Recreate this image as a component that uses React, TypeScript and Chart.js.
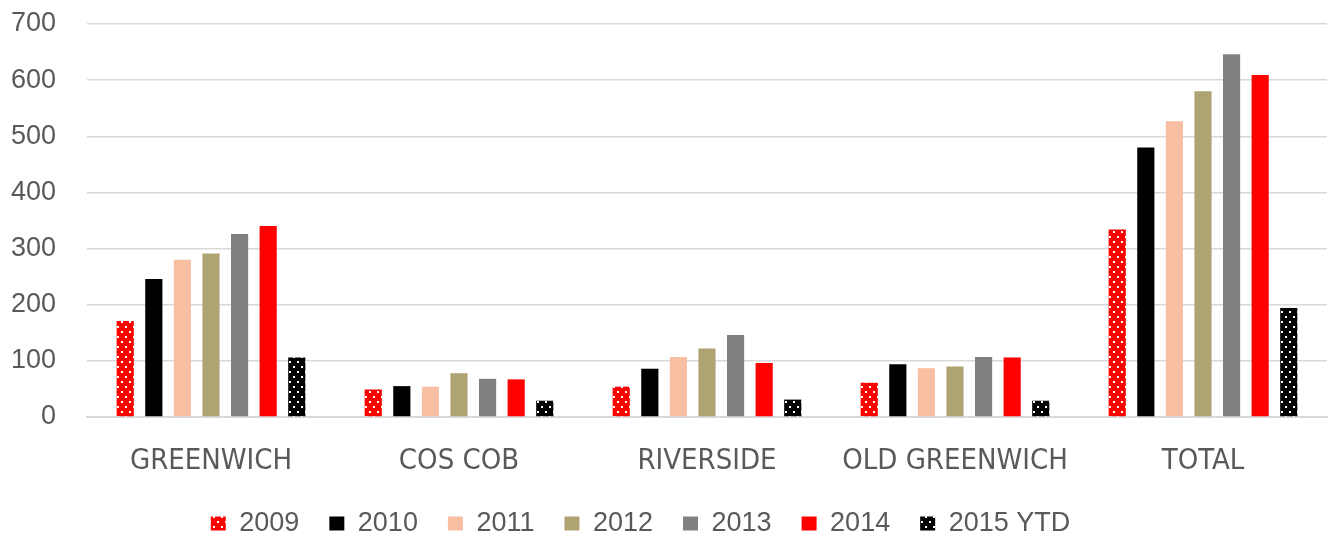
import React, { useEffect, useRef } from "react";
import { Chart, registerables } from "chart.js";

Chart.register(...registerables);

const categories = ["GREENWICH", "COS COB", "RIVERSIDE", "OLD GREENWICH", "TOTAL"];
const seriesNames = ["2009", "2010", "2011", "2012", "2013", "2014", "2015 YTD"];
const y2009 = [171, 49, 54, 61, 334];
const y2010 = [246, 55, 86, 94, 480];
const y2011 = [280, 54, 107, 87, 527];
const y2012 = [291, 78, 122, 90, 580];
const y2013 = [326, 68, 146, 107, 646];
const y2014 = [340, 67, 96, 106, 609];
const y2015 = [106, 29, 31, 29, 194];
const yTicks = [0, 100, 200, 300, 400, 500, 600, 700];

function dotPattern(bg: string): CanvasPattern | string {
  const c = document.createElement("canvas");
  c.width = 8;
  c.height = 10;
  const ctx = c.getContext("2d");
  if (!ctx) return bg;
  ctx.fillStyle = bg;
  ctx.fillRect(0, 0, 8, 10);
  ctx.fillStyle = "#ffffff";
  ctx.fillRect(1, 1, 2, 2);
  ctx.fillRect(5, 6, 2, 2);
  return ctx.createPattern(c, "repeat") || bg;
}

const legendShift = {
  id: "legendShift",
  afterLayout(chart: any) {
    const l = chart.legend;
    if (l) {
      l.left -= 23;
      l.right -= 23;
    }
  },
};

export default function App() {
  const ref = useRef<HTMLCanvasElement | null>(null);
  useEffect(() => {
    document.body.style.margin = "0";
    if (!ref.current) return;
    const colors = [
      dotPattern("#ff0000"),
      "#000000",
      "#f9bfa2",
      "#aea372",
      "#808080",
      "#ff0000",
      dotPattern("#000000"),
    ];
    const values = [y2009, y2010, y2011, y2012, y2013, y2014, y2015];
    const chart = new Chart(ref.current, {
      type: "bar",
      data: {
        labels: categories,
        datasets: seriesNames.map((n, i) => ({
          label: n,
          data: values[i],
          backgroundColor: colors[i] as any,
          borderWidth: 0,
          categoryPercentage: 0.807,
          barPercentage: 0.6,
        })),
      },
      plugins: [legendShift],
      options: {
        animation: false,
        responsive: false,
        maintainAspectRatio: false,
        layout: { padding: { top: 24, right: 7, left: 0, bottom: -14 } },
        plugins: {
          tooltip: { enabled: false },
          legend: {
            position: "bottom",
            labels: {
              boxWidth: 15,
              boxHeight: 14,
              padding: 30,
              color: "#595959",
              font: { family: "'Liberation Sans', Arial, sans-serif", size: 27 },
            },
          },
        },
        scales: {
          x: {
            grid: { display: false, drawTicks: false },
            border: { display: true, color: "#d9d9d9", width: 2 },
            ticks: {
              color: "#595959",
              padding: 27,
              maxRotation: 0,
              font: { family: "'Liberation Sans Narrow', 'DejaVu Sans Condensed', 'Liberation Sans', sans-serif", size: 29 },
            },
            afterFit: (s: any) => {
              s.height = 63;
            },
          },
          y: {
            min: 0,
            max: 700,
            afterBuildTicks: (s: any) => {
              s.ticks = yTicks.map((v) => ({ value: v }));
            },
            grid: { color: "#d9d9d9", lineWidth: 1.5, drawTicks: false },
            border: { display: false },
            ticks: {
              color: "#595959",
              padding: 31,
              font: { family: "'Liberation Sans', Arial, sans-serif", size: 27 },
            },
            afterFit: (s: any) => {
              s.width = 87;
              s.paddingTop = 0;
              s.paddingBottom = 0;
            },
          },
        },
      },
    });
    return () => chart.destroy();
  }, []);
  return (
    <div style={{ position: "absolute", left: 0, top: 0, width: 1334, height: 533, background: "#ffffff" }}>
      <canvas ref={ref} width={1334} height={533} style={{ width: 1334, height: 533 }} />
    </div>
  );
}
